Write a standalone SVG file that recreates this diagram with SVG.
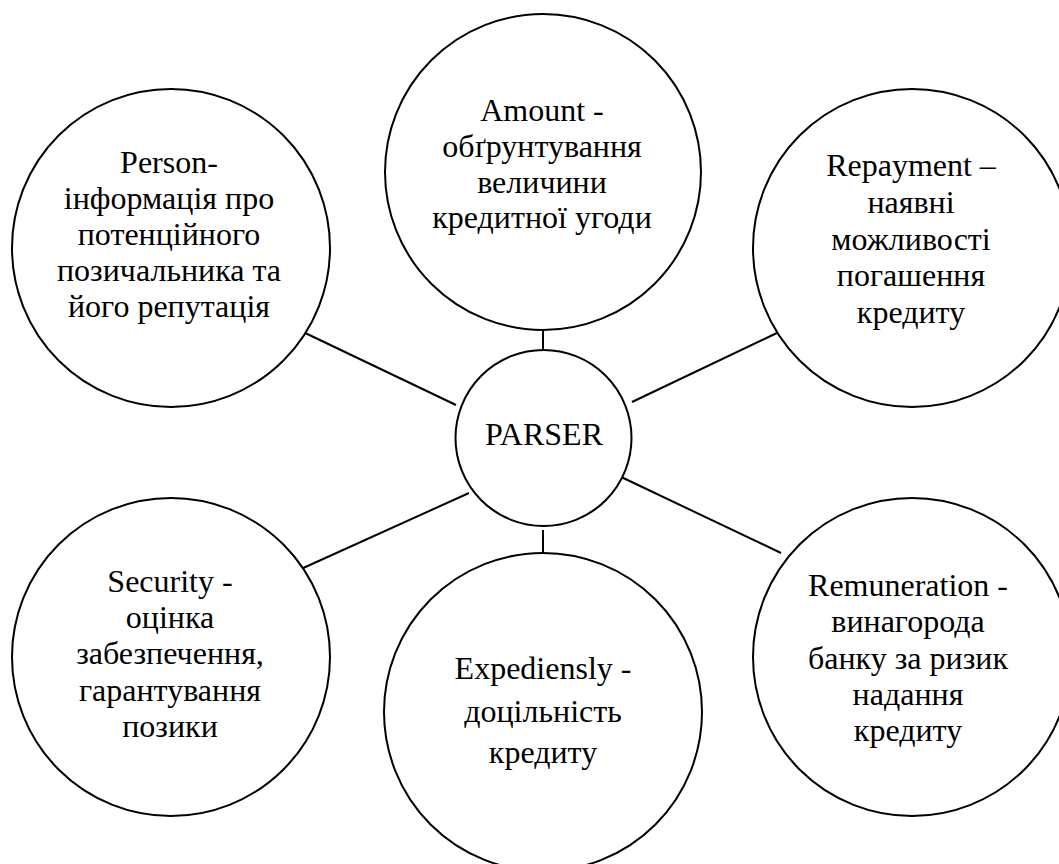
<svg xmlns="http://www.w3.org/2000/svg" width="1059" height="864" viewBox="0 0 1059 864">
<style>
.n{fill:#fff;stroke:#000;stroke-width:2}
.c line{stroke:#000;stroke-width:2}
text{font-family:"Liberation Serif","Times New Roman",serif;font-size:32px;fill:#000;text-anchor:middle}
</style>
<rect width="1059" height="864" fill="#fff"/>
<g class="c" id="connectors">
<line x1="543" y1="330" x2="543" y2="350"/>
<line x1="543" y1="530" x2="543" y2="553"/>
<line x1="301" y1="331" x2="456" y2="405"/>
<line x1="779" y1="332" x2="632" y2="402"/>
<line x1="301" y1="569" x2="469" y2="493"/>
<line x1="617" y1="475" x2="781" y2="553"/>
</g>
<g id="parser">
<circle class="n" cx="543.5" cy="438" r="88"/>
<text x="544" y="445">PARSER</text>
</g>
<g id="amount">
<circle class="n" cx="543" cy="172" r="158"/>
<text x="542" y="121">Amount -</text>
<text x="542" y="157">обґрунтування</text>
<text x="542" y="193">величини</text>
<text x="542" y="228">кредитної угоди</text>
</g>
<g id="person">
<circle class="n" cx="171" cy="248" r="159"/>
<text x="169" y="173">Person-</text>
<text x="169" y="209">інформація про</text>
<text x="169" y="245">потенційного</text>
<text x="169" y="281">позичальника та</text>
<text x="169" y="317">його репутація</text>
</g>
<g id="repayment">
<circle class="n" cx="912" cy="248" r="159"/>
<text x="911" y="176">Repayment –</text>
<text x="911" y="213">наявні</text>
<text x="911" y="250">можливості</text>
<text x="911" y="286">погашення</text>
<text x="911" y="323">кредиту</text>
</g>
<g id="security">
<circle class="n" cx="171" cy="657" r="159"/>
<text x="170" y="592">Security -</text>
<text x="170" y="628">оцінка</text>
<text x="170" y="664">забезпечення,</text>
<text x="170" y="701">гарантування</text>
<text x="170" y="737">позики</text>
</g>
<g id="expediensly">
<circle class="n" cx="543" cy="712" r="159"/>
<text x="543" y="679">Expediensly -</text>
<text x="543" y="722">доцільність</text>
<text x="543" y="763">кредиту</text>
</g>
<g id="remuneration">
<circle class="n" cx="912" cy="657" r="159"/>
<text x="908" y="596">Remuneration -</text>
<text x="908" y="632">винагорода</text>
<text x="908" y="669">банку за ризик</text>
<text x="908" y="705">надання</text>
<text x="908" y="741">кредиту</text>
</g>
</svg>
